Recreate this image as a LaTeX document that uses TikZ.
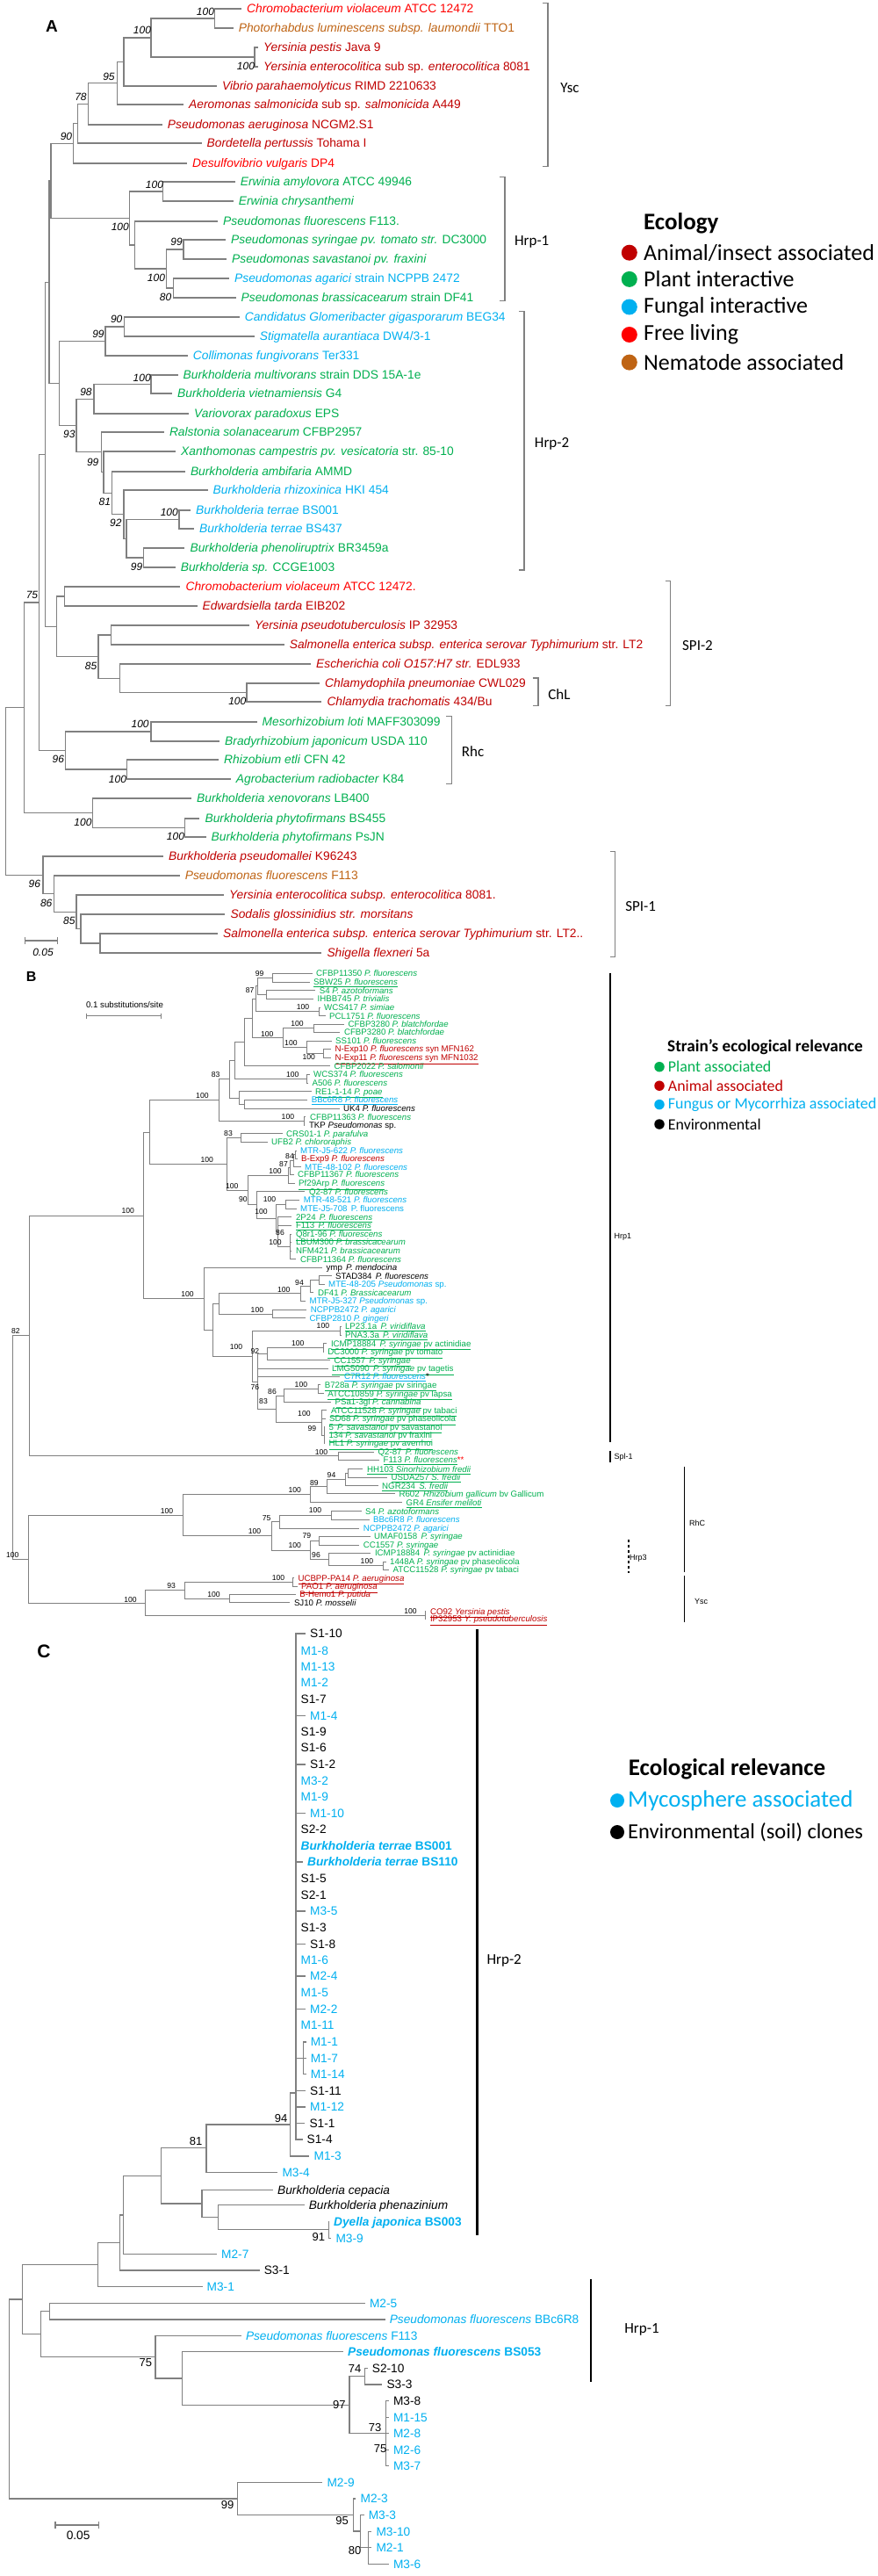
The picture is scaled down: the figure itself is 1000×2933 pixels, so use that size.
\documentclass[tikz,border=0pt]{standalone}
\usepackage{fontspec}
\setmainfont{Liberation Sans}
\newfontfamily\calib{Carlito}
\usetikzlibrary{calc}
\definecolor{plantgreen}{RGB}{0,176,80}
\definecolor{fungblue}{RGB}{0,176,240}
\definecolor{animred}{RGB}{192,0,0}
\definecolor{freered}{RGB}{255,0,0}
\definecolor{nembrown}{RGB}{191,100,20}
\definecolor{treegray}{RGB}{128,128,128}
\tikzset{
  brA/.style={draw=treegray,line width=1.3pt},
  brB/.style={draw=treegray,line width=0.8pt},
  brC/.style={draw=treegray,line width=1.2pt},
  taxA/.style={anchor=west,inner xsep=6pt,inner ysep=0pt,text height=9.9pt,text depth=0pt,font=\fontsize{13.8}{16}\selectfont},
  taxB/.style={anchor=west,inner xsep=4.5pt,inner ysep=0pt,text height=7pt,text depth=0pt,font=\fontsize{9.7}{11}\selectfont},
  taxC/.style={anchor=west,inner xsep=5pt,inner ysep=0pt,text height=9.8pt,text depth=0pt,font=\fontsize{13.7}{16}\selectfont},
  bootA/.style={inner sep=0pt,font=\fontsize{12}{14}\selectfont\itshape},
  bootB/.style={inner sep=0pt,font=\fontsize{8.6}{10}\selectfont},
  bootC/.style={inner sep=0pt,font=\fontsize{13}{15}\selectfont},
  bracA/.style={draw=treegray,line width=1.2pt},
  barB/.style={draw=black,line width=1.5pt},
  barC/.style={draw=black,line width=2.5pt},
  cladeA/.style={inner sep=0pt,font=\calib\fontsize{17}{20}\selectfont},
  cladeB/.style={anchor=west,inner sep=0pt,font=\fontsize{9}{10}\selectfont},
  cladeC/.style={inner sep=0pt,font=\calib\fontsize{17}{20}\selectfont},
  panel/.style={inner sep=0pt,font=\bfseries\fontsize{19}{22}\selectfont},
  legdot/.style={circle,inner sep=0pt,minimum size=#1},
  legtext/.style={anchor=west,inner sep=0pt,font=\calib\fontsize{#1}{#1}\selectfont},
  legtitle/.style={anchor=west,inner sep=0pt,font=\calib\bfseries\fontsize{#1}{#1}\selectfont}
}
\begin{document}
\begin{tikzpicture}[x=1pt,y=-1pt]
\fill[white] (0,0) rectangle (1000,2933);
\useasboundingbox (0,0) rectangle (1000,2933);

%%%%%%%%%%%%%%%% panel A
\node[panel] (labA) at (59,30) {A};

% Ysc
\node[taxA,text=freered] (A1) at (275,10) {\textit{Chromobacterium violaceum} ATCC 12472};
\node[taxA,text=nembrown] (A2) at (265.6,32) {\textit{Photorhabdus luminescens subsp. laumondii} TTO1};
\node[taxA,text=animred] (A3) at (294,54) {\textit{Yersinia pestis} Java 9};
\node[taxA,text=animred] (A4) at (294,76) {\textit{Yersinia enterocolitica} sub sp. \textit{enterocolitica} 8081};
\node[taxA,text=animred] (A5) at (247,98) {\textit{Vibrio parahaemolyticus} RIMD 2210633};
\node[taxA,text=animred] (A6) at (209,119) {\textit{Aeromonas salmonicida} sub sp. \textit{salmonicida} A449};
\node[taxA,text=animred] (A7) at (184.7,142) {\textit{Pseudomonas aeruginosa} NCGM2.S1};
\node[taxA,text=animred] (A8) at (229.5,163) {\textit{Bordetella pertussis} Tohama I};
\node[taxA,text=freered] (A9) at (213,186) {\textit{Desulfovibrio vulgaris} DP4};
% Hrp-1
\node[taxA,text=plantgreen] (A10) at (267.6,207) {\textit{Erwinia amylovora} ATCC 49946};
\node[taxA,text=plantgreen] (A11) at (265.6,229) {\textit{Erwinia chrysanthemi}};
\node[taxA,text=plantgreen] (A12) at (248,252) {\textit{Pseudomonas fluorescens} F113.};
\node[taxA,text=plantgreen] (A13) at (257,273) {\textit{Pseudomonas syringae pv. tomato str.} DC3000};
\node[taxA,text=plantgreen] (A14) at (258,295) {\textit{Pseudomonas savastanoi pv. fraxini}};
\node[taxA,text=fungblue] (A15) at (261,317) {\textit{Pseudomonas agarici} strain NCPPB 2472};
\node[taxA,text=plantgreen] (A16) at (268.5,339) {\textit{Pseudomonas brassicacearum} strain DF41};
% Hrp-2
\node[taxA,text=fungblue] (A17) at (272.6,361) {\textit{Candidatus Glomeribacter gigasporarum} BEG34};
\node[taxA,text=fungblue] (A18) at (289.6,383) {\textit{Stigmatella aurantiaca} DW4/3-1};
\node[taxA,text=fungblue] (A19) at (213.7,405) {\textit{Collimonas fungivorans} Ter331};
\node[taxA,text=plantgreen] (A20) at (202.5,427) {\textit{Burkholderia multivorans} strain DDS 15A-1e};
\node[taxA,text=plantgreen] (A21) at (196,448) {\textit{Burkholderia vietnamiensis} G4};
\node[taxA,text=plantgreen] (A22) at (215,471) {\textit{Variovorax paradoxus} EPS};
\node[taxA,text=plantgreen] (A23) at (186.8,492) {\textit{Ralstonia solanacearum} CFBP2957};
\node[taxA,text=plantgreen] (A24) at (200,514) {\textit{Xanthomonas campestris pv. vesicatoria} str. 85-10};
\node[taxA,text=plantgreen] (A25) at (210.8,537) {\textit{Burkholderia ambifaria} AMMD};
\node[taxA,text=fungblue] (A26) at (236.5,558) {\textit{Burkholderia rhizoxinica} HKI 454};
\node[taxA,text=fungblue] (A27) at (217,581) {\textit{Burkholderia terrae} BS001};
\node[taxA,text=fungblue] (A28) at (221,602) {\textit{Burkholderia terrae} BS437};
\node[taxA,text=plantgreen] (A29) at (210.4,624) {\textit{Burkholderia phenoliruptrix} BR3459a};
\node[taxA,text=plantgreen] (A30) at (199.6,646) {\textit{Burkholderia sp.} CCGE1003};
% SPI-2
\node[taxA,text=freered] (A31) at (205.4,668) {\textit{Chromobacterium violaceum} ATCC 12472.};
\node[taxA,text=animred] (A32) at (224.5,690) {\textit{Edwardsiella tarda} EIB202};
\node[taxA,text=animred] (A33) at (284,712) {\textit{Yersinia pseudotuberculosis} IP 32953};
\node[taxA,text=animred] (A34) at (323.6,734) {\textit{Salmonella enterica subsp. enterica serovar Typhimurium} str. LT2};
\node[taxA,text=animred] (A35) at (354,756) {\textit{Escherichia coli O157:H7 str.} EDL933};
\node[taxA,text=animred] (A36) at (364,778) {\textit{Chlamydophila pneumoniae} CWL029};
\node[taxA,text=animred] (A37) at (366.3,799) {\textit{Chlamydia trachomatis} 434/Bu};
% Rhc
\node[taxA,text=plantgreen] (A38) at (292.5,822) {\textit{Mesorhizobium loti} MAFF303099};
\node[taxA,text=plantgreen] (A39) at (250,844) {\textit{Bradyrhizobium japonicum} USDA 110};
\node[taxA,text=plantgreen] (A40) at (249,865) {\textit{Rhizobium etli} CFN 42};
\node[taxA,text=plantgreen] (A41) at (262.7,887) {\textit{Agrobacterium radiobacter} K84};
\node[taxA,text=plantgreen] (A42) at (218,909) {\textit{Burkholderia xenovorans} LB400};
\node[taxA,text=plantgreen] (A43) at (227.4,932) {\textit{Burkholderia phytofirmans} BS455};
\node[taxA,text=plantgreen] (A44) at (234.5,953) {\textit{Burkholderia phytofirmans} PsJN};
% SPI-1
\node[taxA,text=animred] (A45) at (186,975) {\textit{Burkholderia pseudomallei} K96243};
\node[taxA,text=nembrown] (A46) at (204.6,997) {\textit{Pseudomonas fluorescens} F113};
\node[taxA,text=animred] (A47) at (255,1019) {\textit{Yersinia enterocolitica subsp. enterocolitica} 8081.};
\node[taxA,text=animred] (A48) at (256.4,1041) {\textit{Sodalis glossinidius str. morsitans}};
\node[taxA,text=animred] (A49) at (248,1063) {\textit{Salmonella enterica subsp. enterica serovar Typhimurium} str. LT2..};
\node[taxA,text=animred] (A50) at (366.3,1085) {\textit{Shigella flexneri} 5a};

% inner nodes A
\coordinate (a1) at (244.6,21);   \coordinate (a2) at (290,65);
\coordinate (a3) at (172,43);     \coordinate (a4) at (141,70.5);
\coordinate (a5) at (133.5,94.8); \coordinate (a6) at (100.7,118.4);
\coordinate (a7) at (88.3,140.7); \coordinate (a8) at (83.7,163.3);
\coordinate (b1) at (185.7,218);  \coordinate (b2) at (209,284);
\coordinate (b3) at (197.8,328);  \coordinate (b4) at (189.5,306);
\coordinate (b5) at (153.4,279);  \coordinate (b6) at (147.2,248.5);
\coordinate (c1) at (141.8,372);  \coordinate (c2) at (120,388.5);
\coordinate (c3) at (172,437.5);  \coordinate (c4) at (107,454.3);
\coordinate (c5) at (204,591.5);  \coordinate (c6) at (163.8,635);
\coordinate (c7) at (143.9,613.3);\coordinate (c8) at (141,585.6);
\coordinate (c9) at (127.3,561.3);\coordinate (c10) at (118,537.7);
\coordinate (c11) at (115.3,514.8);\coordinate (c12) at (87,484.5);
\coordinate (c13) at (67.6,436.5);
\coordinate (d1) at (58,205.9);   \coordinate (d2) at (56,321.2);
\coordinate (e1) at (73.8,679);   \coordinate (e2) at (126.5,723);
\coordinate (e3) at (281,788.5);  \coordinate (e4) at (136.8,772.3);
\coordinate (e5) at (112,747.6);  \coordinate (e6) at (64.3,713.3);
\coordinate (d3) at (51.8,517.3);
\coordinate (f1) at (172,833);    \coordinate (f2) at (144.3,876);
\coordinate (f3) at (74.6,854.5); \coordinate (d4) at (44.4,685.9);
\coordinate (g1) at (210.6,942.5);\coordinate (g2) at (105.7,925.8);
\coordinate (d5) at (27.8,805.8);
\coordinate (h1) at (114,1074);   \coordinate (h2) at (92,1057.5);
\coordinate (h3) at (87,1038.3);  \coordinate (h4) at (61.4,1017.6);
\coordinate (h5) at (49,996.3);   \coordinate (rA) at (6.2,901);

\foreach \p/\c in {a1/A1,a1/A2,a2/A3,a2/A4,a3/a1,a3/a2,a4/a3,a4/A5,a5/a4,a5/A6,a6/a5,a6/A7,a7/a6,a7/A8,a8/a7,a8/A9,
  b1/A10,b1/A11,b2/A13,b2/A14,b3/A15,b3/A16,b4/b2,b4/b3,b5/A12,b5/b4,b6/b1,b6/b5,
  c1/A17,c1/A18,c2/c1,c2/A19,c3/A20,c3/A21,c4/c3,c4/A22,c5/A27,c5/A28,c6/A29,c6/A30,c7/c5,c7/c6,c8/A26,c8/c7,
  c9/A25,c9/c8,c10/A24,c10/c9,c11/A23,c11/c10,c12/c4,c12/c11,c13/c2,c13/c12,d1/a8,d1/b6,d2/d1,d2/c13,
  e1/A31,e1/A32,e2/A33,e2/A34,e3/A36,e3/A37,e4/A35,e4/e3,e5/e2,e5/e4,e6/e1,e6/e5,d3/d2,d3/e6,
  f1/A38,f1/A39,f2/A40,f2/A41,f3/f1,f3/f2,d4/d3,d4/f3,g1/A43,g1/A44,g2/A42,g2/g1,d5/d4,d5/g2,
  h1/A49,h1/A50,h2/A48,h2/h1,h3/A47,h3/h2,h4/A46,h4/h3,h5/A45,h5/h4,rA/d5,rA/h5}
  \draw[brA] (\p) |- (\c);

% bootstrap A
\foreach \x/\y/\v [count=\i] in {234/13/100,162/34/100,280/75/100,124/87/95,92/110/78,75.5/155/90,
  176/210/100,201/275/99,188.6/338/80,178/316/100,136.8/258/100,
  132.7/363/90,112/380/99,161.7/430/100,98/446/98,78.8/494/93,105.7/526/99,119.4/571/81,131.8/595/92,192.8/583/100,155.5/645/99,
  270.3/798/100,103.6/758/85,36.5/677/75,159.6/824/100,134/887/100,66.3/864/96,200/952/100,94.5/936/100,
  39.4/1006/96,52.7/1028/86,78.8/1048/85}
  \node[bootA] (bsA\i) at (\x,\y) {\v};

% clade brackets A
\draw[bracA] (618,3.5) -- (624,3.5) -- (624,189.5) -- (618,189.5);
\draw[bracA] (569,201.4) -- (575,201.4) -- (575,342.5) -- (569,342.5);
\draw[bracA] (591,354.4) -- (597,354.4) -- (597,649) -- (591,649);
\draw[bracA] (757.6,661.8) -- (763.6,661.8) -- (763.6,803.5) -- (757.6,803.5);
\draw[bracA] (606.9,772) -- (612.9,772) -- (612.9,803.5) -- (606.9,803.5);
\draw[bracA] (508.3,815.4) -- (514.3,815.4) -- (514.3,892.6) -- (508.3,892.6);
\draw[bracA] (694.7,969.8) -- (700.7,969.8) -- (700.7,1089.1) -- (694.7,1089.1);
\node[cladeA] (ysc) at (649,100) {Ysc};
\node[cladeA] (hrp1A) at (605.7,275) {Hrp-1};
\node[cladeA] (hrp2A) at (628.6,505) {Hrp-2};
\node[cladeA] (spi2) at (794.5,735.4) {SPI-2};
\node[cladeA] (chl) at (637,791) {ChL};
\node[cladeA] (rhcA) at (538.6,856) {Rhc};
\node[cladeA] (spi1) at (729.6,1031.6) {SPI-1};

% scale A
\draw[treegray,line width=1.2pt] (28.2,1067) -- (28.2,1075) (28.2,1071) -- (65.5,1071) (65.5,1067) -- (65.5,1075);
\node[bootA] (scA) at (49,1084) {0.05};

% legend A
\node[legtitle=27] (ecoT) at (732.9,254) {Ecology};
\node[legdot=18pt,fill=animred] (ecoD1) at (716.8,287.7) {};
\node[legdot=18pt,fill=plantgreen] (ecoD2) at (716.8,317.9) {};
\node[legdot=18pt,fill=fungblue] (ecoD3) at (716.8,349.5) {};
\node[legdot=18pt,fill=freered] (ecoD4) at (716.8,381) {};
\node[legdot=18pt,fill=nembrown] (ecoD5) at (716.8,412.6) {};
\node[legtext=26] (ecoL1) at (732.9,287.7) {Animal/insect associated};
\node[legtext=26] (ecoL2) at (732.9,317.9) {Plant interactive};
\node[legtext=26] (ecoL3) at (732.9,349.5) {Fungal interactive};
\node[legtext=26] (ecoL4) at (732.9,381) {Free living};
\node[legtext=26] (ecoL5) at (732.9,412.6) {Nematode associated};

%%%%%%%%%%%%%%%% panel B
\node[panel,font=\bfseries\fontsize{16}{18}\selectfont] (labB) at (35.7,1111.7) {B};
\draw[treegray,line width=0.9pt] (98.2,1153.7) -- (98.2,1159.7) (98.2,1156.7) -- (183.2,1156.7) (183.2,1153.7) -- (183.2,1159.7);
\node[inner sep=0pt,font=\fontsize{9.7}{11}\selectfont] (scB) at (142,1144.3) {0.1 substitutions/site};

\node[taxB,text=plantgreen] (B1) at (355.5,1108.3) {CFBP11350 \textit{P. fluorescens}};
\node[taxB,text=plantgreen] (B2) at (352.5,1118) {\underline{SBW25 \textit{P. fluorescens}}};
\node[taxB,text=plantgreen] (B3) at (359.1,1127.7) {S4 \textit{P. azotoformans}};
\node[taxB,text=plantgreen] (B4) at (356.9,1137.3) {IHBB745 \textit{P. trivialis}};
\node[taxB,text=plantgreen] (B5) at (364.5,1147) {WCS417 \textit{P. simiae}};
\node[taxB,text=plantgreen] (B6) at (370.5,1156.7) {PCL1751 \textit{P. fluorescens}};
\node[taxB,text=plantgreen] (B7) at (391.9,1166) {CFBP3280 \textit{P. blatchfordae}};
\node[taxB,text=plantgreen] (B8) at (387.3,1175.3) {CFBP3280 \textit{P. blatchfordae}};
\node[taxB,text=plantgreen] (B9) at (377.5,1185) {SS101 \textit{P. fluorescens}};
\node[taxB,text=animred] (B10) at (376.9,1194.3) {N-Exp10 \textit{P. fluorescens} syn MFN162};
\node[taxB,text=animred] (B11) at (376.9,1204) {\underline{N-Exp11 \textit{P. fluorescens} syn MFN1032}};
\node[taxB,text=plantgreen] (B12) at (375.9,1213.7) {CFBP2022 \textit{P. salomonii}};
\node[taxB,text=plantgreen] (B13) at (352.5,1223.3) {WCS374 \textit{P. fluorescens}};
\node[taxB,text=plantgreen] (B14) at (350.9,1233) {A506 \textit{P. fluorescens}};
\node[taxB,text=plantgreen] (B15) at (354.5,1242.7) {\underline{RE1-1-14 \textit{P. poae}}};
\node[taxB,text=fungblue] (B16) at (350.1,1252.3) {\underline{BBc6R8 \textit{P. fluorescens}}};
\node[taxB,text=black] (B17) at (386.5,1262) {UK4 \textit{P. fluorescens}};
\node[taxB,text=plantgreen] (B18) at (348.4,1271.7) {CFBP11363 \textit{P. fluorescens}};
\node[taxB,text=black] (B19) at (347.3,1281.3) {TKP \textit{Pseudomonas} sp.};
\node[taxB,text=plantgreen] (B20) at (321.5,1290.7) {CRS01-1 \textit{P. parafulva}};
\node[taxB,text=plantgreen] (B21) at (304.5,1300.3) {UFB2 \textit{P. chlororaphis}};
\node[taxB,text=fungblue] (B22) at (337.5,1310) {MTR-J5-622 \textit{P. fluorescens}};
\node[taxB,text=animred] (B23) at (338.5,1319.3) {B-Exp9 \textit{P. fluorescens}};
\node[taxB,text=fungblue] (B24) at (342.5,1328.7) {MTE-48-102 \textit{P. fluorescens}};
\node[taxB,text=plantgreen] (B25) at (334.5,1337.3) {CFBP11367 \textit{P. fluorescens}};
\node[taxB,text=plantgreen] (B26) at (335.5,1347.3) {\underline{Pf29Arp \textit{P. fluorescens}}};
\node[taxB,text=plantgreen] (B27) at (347.3,1356.7) {Q2-87 \textit{P. fluorescens}};
\node[taxB,text=fungblue] (B28) at (341.2,1366.3) {MTR-48-521 \textit{P. fluorescens}};
\node[taxB,text=fungblue] (B29) at (337.5,1376) {MTE-J5-708\, P. fluorescens};
\node[taxB,text=plantgreen] (B30) at (332.3,1385.7) {\underline{2P24\, \textit{P. fluorescens}}};
\node[taxB,text=plantgreen] (B31) at (332.3,1395.3) {\underline{F113\, \textit{P. fluorescens}}};
\node[taxB,text=plantgreen] (B32) at (332.3,1405) {\underline{Q8r1-96 \textit{P. fluorescens}}};
\node[taxB,text=plantgreen] (B33) at (332.3,1414.3) {LBUM300 \textit{P. brassicacearum}};
\node[taxB,text=plantgreen] (B34) at (332.3,1424) {NFM421 \textit{P. brassicacearum}};
\node[taxB,text=plantgreen] (B35) at (337.3,1433.7) {CFBP11364 \textit{P. fluorescens}};
\node[taxB,text=black] (B36) at (366.9,1443.3) {ymp\, \textit{P. mendocina}};
\node[taxB,text=black] (B37) at (377.5,1452.7) {STAD384\, \textit{P. fluorescens}};
\node[taxB,text=fungblue] (B38) at (369.5,1462) {MTE-48-205 \textit{Pseudomonas} sp.};
\node[taxB,text=plantgreen] (B39) at (357.3,1471.7) {DF41 \textit{P. Brassicacearum}};
\node[taxB,text=fungblue] (B40) at (348,1481) {MTR-J5-327 \textit{Pseudomonas} sp.};
\node[taxB,text=fungblue] (B41) at (349.1,1491) {NCPPB2472 \textit{P. agarici}};
\node[taxB,text=fungblue] (B42) at (348,1500.7) {CFBP2810 \textit{P. gingeri}};
\node[taxB,text=plantgreen] (B43) at (388.4,1510.3) {\underline{LP23.1a\, \textit{P. viridiflava}}};
\node[taxB,text=plantgreen] (B44) at (388.4,1520) {\underline{PNA3.3a\, \textit{P. viridiflava}}};
\node[taxB,text=plantgreen] (B45) at (372.3,1529.7) {\underline{ICMP18884\, \textit{P. syringae} pv actinidiae}};
\node[taxB,text=plantgreen] (B46) at (368.7,1539) {\underline{DC3000 \textit{P. syringae} pv tomato}};
\node[taxB,text=plantgreen] (B47) at (375.9,1548.7) {\underline{CC1557\, \textit{P. syringae}}};
\node[taxB,text=plantgreen] (B48) at (373.5,1558) {\underline{LMG5090\, \textit{P. syringae} pv tagetis}};
\node[taxB,text=fungblue] (B49) at (387.3,1567.3) {\underline{C7R12 \textit{P. fluorescens}}\textcolor{black}{*}};
\node[taxB,text=plantgreen] (B50) at (365.1,1576.7) {\underline{B728a \textit{P. syringae} pv siringae}};
\node[taxB,text=plantgreen] (B51) at (368.7,1586.7) {\underline{ATCC10859 \textit{P. syringae} pv lapsa}};
\node[taxB,text=plantgreen] (B52) at (376.9,1596) {\underline{PSa1-3gi \textit{P. cannabina}}};
\node[taxB,text=plantgreen] (B53) at (372.3,1605.7) {\underline{ATCC11528 \textit{P. syringae} pv tabaci}};
\node[taxB,text=plantgreen] (B54) at (370.5,1615) {\underline{SD68 \textit{P. syringae} pv phaseolicola}};
\node[taxB,text=plantgreen] (B55) at (369.8,1624.7) {\underline{5\, \textit{P. savastanoi} pv savastanoi}};
\node[taxB,text=plantgreen] (B56) at (369.8,1634) {\underline{134 \textit{P. savastanoi} pv fraxini}};
\node[taxB,text=plantgreen] (B57) at (369.8,1643.3) {\underline{HL1 \textit{P. syringae} pv averrhoi}};
\node[taxB,text=plantgreen] (B58) at (425.9,1653.3) {Q2-87\, \textit{P. fluorescens}};
\node[taxB,text=plantgreen] (B59) at (431.9,1662.3) {\underline{F113 \textit{P. fluorescens}}\textcolor{freered}{**}};
\node[taxB,text=plantgreen] (B60) at (413.4,1672.7) {\underline{HH103 \textit{Sinorhizobium fredii}}};
\node[taxB,text=plantgreen] (B61) at (440.9,1682.3) {\underline{USDA257 \textit{S. fredii}}};
\node[taxB,text=plantgreen] (B62) at (430.5,1691.7) {\underline{NGR234\, \textit{S. fredii}}};
\node[taxB,text=plantgreen] (B63) at (449.8,1700.7) {R602\, \textit{Rhizobium gallicum} bv Gallicum};
\node[taxB,text=plantgreen] (B64) at (458,1710.7) {\underline{GR4 \textit{Ensifer meliloti}}};
\node[taxB,text=plantgreen] (B65) at (411.5,1720.7) {S4 \textit{P. azotoformans}};
\node[taxB,text=fungblue] (B66) at (420.5,1730) {BBc6R8 \textit{P. fluorescens}};
\node[taxB,text=fungblue] (B67) at (409.1,1740) {NCPPB2472 \textit{P. agarici}};
\node[taxB,text=plantgreen] (B68) at (421.5,1749.3) {UMAF0158\, \textit{P. syringae}};
\node[taxB,text=plantgreen] (B69) at (409.1,1759) {CC1557 \textit{P. syringae}};
\node[taxB,text=plantgreen] (B70) at (422.3,1768.3) {ICMP18884\, \textit{P. syringae} pv actinidiae};
\node[taxB,text=plantgreen] (B71) at (439.5,1778) {1448A \textit{P. syringae} pv phaseolicola};
\node[taxB,text=plantgreen] (B72) at (443,1787.3) {ATCC11528 \textit{P. syringae} pv tabaci};
\node[taxB,text=animred] (B73) at (334.8,1796.7) {\underline{UCBPP-PA14 \textit{P. aeruginosa}}};
\node[taxB,text=animred] (B74) at (338.5,1806) {\underline{PAO1 \textit{P. aeruginosa}}};
\node[taxB,text=animred] (B75) at (336.7,1815.3) {B-Hemo1 \textit{P. putida}};
\node[taxB,text=black] (B76) at (330.3,1824.7) {SJ10 \textit{P. mosselii}};
\node[taxB,text=animred] (B77) at (485.3,1834.7) {\underline{CO92 \textit{Yersinia pestis}}};
\node[taxB,text=animred] (B78) at (485.3,1843.3) {\underline{IP32953 \textit{Y. pseudotuberculosis}}};

% inner nodes B
\coordinate (nb1) at (310.7,1113.2); \coordinate (nb2) at (303.6,1132.5);
\coordinate (nb3) at (293.6,1122.8); \coordinate (nb4) at (363.5,1151.8);
\coordinate (nb5) at (291,1137.3);   \coordinate (nb6) at (357,1170.7);
\coordinate (nb7) at (367.9,1199.2); \coordinate (nb8) at (349.3,1192.1);
\coordinate (nb9) at (322.5,1181.4); \coordinate (nb10) at (287.5,1159.3);
\coordinate (nb11) at (278.6,1186.5);\coordinate (nb12) at (349.5,1228.2);
\coordinate (nb13) at (267,1207.3);  \coordinate (nb14) at (278.6,1257.2);
\coordinate (nb15) at (272,1250);    \coordinate (nb16) at (261.8,1228.6);
\coordinate (nb17) at (346.4,1276.5);\coordinate (nb18) at (249,1252.6);
\coordinate (nc1) at (274.3,1295.5); \coordinate (nc2) at (336,1314.7);
\coordinate (nc3) at (334.5,1321.7); \coordinate (nc4) at (330.4,1329.5);
\coordinate (nc5) at (328.6,1338.4); \coordinate (nc6) at (325.7,1371.2);
\coordinate (nc7) at (330.5,1419.4); \coordinate (nc8) at (316,1402.5);
\coordinate (nc9) at (314.3,1386.9); \coordinate (nc10) at (292,1371.8);
\coordinate (nc11) at (282,1355.1);  \coordinate (nc12) at (257.9,1325.3);
\coordinate (nc13) at (170.7,1289);
\coordinate (nd7) at (363,1457.4);   \coordinate (nd6) at (353.6,1464.5);
\coordinate (nd4) at (342,1472.8);   \coordinate (nd5) at (310.7,1495.9);
\coordinate (nd2) at (249,1484.3);
\coordinate (ne1) at (387.5,1515.2); \coordinate (ne3) at (367.9,1534.4);
\coordinate (ne5) at (304.3,1541.5); \coordinate (ne7) at (362.5,1581.7);
\coordinate (ne8) at (323.2,1588.9); \coordinate (ne9a) at (369,1634);
\coordinate (ne9) at (366,1619.8);   \coordinate (ne10) at (314.3,1604.3);
\coordinate (ne2) at (292.9,1572.9); \coordinate (nd3) at (287.5,1544);
\coordinate (nd1) at (242.1,1514.2); \coordinate (nc15) at (232.1,1478.8);
\coordinate (nc14) at (163.6,1383.9);\coordinate (nf1) at (385,1657.8);
\coordinate (ng1) at (32.9,1520.8);
\coordinate (nh1) at (396.4,1677.5); \coordinate (nh2) at (392.9,1684.6);
\coordinate (nh3) at (372.5,1692.7); \coordinate (nh4) at (353.6,1701.7);
\coordinate (nh5) at (377.5,1725.4); \coordinate (nh6) at (317.9,1732.7);
\coordinate (nh7) at (363.2,1754.2); \coordinate (nh8) at (436.4,1782.7);
\coordinate (nh9) at (374.3,1775.5); \coordinate (nh10) at (353.6,1764.9);
\coordinate (nh11) at (308.9,1748.8);\coordinate (nh12) at (208.2,1725.3);
\coordinate (ni2) at (333,1801.4);   \coordinate (ni3) at (261.5,1820);
\coordinate (ni4) at (210.5,1810.7); \coordinate (ni5) at (484,1839);
\coordinate (ni6) at (165.8,1824.9); \coordinate (ni7) at (32.4,1775.1);
\coordinate (rB) at (14.3,1648);

\foreach \p/\c in {nb1/B1,nb1/B2,nb2/B3,nb2/B4,nb3/nb1,nb3/nb2,nb4/B5,nb4/B6,nb5/nb3,nb5/nb4,nb6/B7,nb6/B8,
  nb7/B10,nb7/B11,nb8/B9,nb8/nb7,nb9/nb6,nb9/nb8,nb10/nb5,nb10/nb9,nb11/nb10,nb11/B12,nb12/B13,nb12/B14,
  nb13/nb11,nb13/nb12,nb14/B16,nb14/B17,nb15/B15,nb15/nb14,nb16/nb13,nb16/nb15,nb17/B18,nb17/B19,nb18/nb16,nb18/nb17,
  nc1/B20,nc1/B21,nc2/B22,nc2/B23,nc3/nc2,nc3/B24,nc4/nc3,nc4/B25,nc5/nc4,nc5/B26,nc6/B28,nc6/B29,
  nc7/B32,nc7/B33,nc7/B34,nc7/B35,nc8/B30,nc8/B31,nc8/nc7,nc9/nc6,nc9/nc8,nc10/B27,nc10/nc9,nc11/nc5,nc11/nc10,
  nc12/nc1,nc12/nc11,nc13/nb18,nc13/nc12,
  nd7/B37,nd7/B38,nd6/nd7,nd6/B39,nd4/nd6,nd4/B40,nd5/B41,nd5/B42,nd2/nd4,nd2/nd5,
  ne1/B43,ne1/B44,ne3/B45,ne3/B46,ne5/ne3,ne5/B47,ne7/B50,ne7/B51,ne8/ne7,ne8/B52,ne9a/B55,ne9a/B56,ne9a/B57,
  ne9/B53,ne9/B54,ne9/ne9a,ne10/ne8,ne10/ne9,ne2/ne5,ne2/B48,ne2/B49,ne2/ne10,nd3/ne1,nd3/ne2,nd1/nd2,nd1/nd3,
  nc15/B36,nc15/nd1,nc14/nc13,nc14/nc15,nf1/B58,nf1/B59,ng1/nc14,ng1/nf1,
  nh1/B60,nh1/B61,nh2/nh1,nh2/B62,nh3/nh2,nh3/B63,nh4/nh3,nh4/B64,nh5/B65,nh5/B66,nh6/nh5,nh6/B67,
  nh7/B68,nh7/B69,nh8/B71,nh8/B72,nh9/B70,nh9/nh8,nh10/nh7,nh10/nh9,nh11/nh6,nh11/nh10,nh12/nh4,nh12/nh11,
  ni2/B73,ni2/B74,ni3/B75,ni3/B76,ni4/ni2,ni4/ni3,ni5/B77,ni5/B78,ni6/ni4,ni6/ni5,ni7/nh12,ni7/ni6,rB/ng1,rB/ni7}
  \draw[brB] (\p) |- (\c);

% bootstrap B
\foreach \x/\y/\v [count=\i] in {295.7/1108.3/99,284.6/1127.7/87,345/1147/100,338.6/1166/100,331.4/1187.7/100,
  304.3/1177.3/100,351.8/1203.3/100,333.2/1223.3/100,245.7/1223.3/83,230.4/1247.7/100,327.9/1271.7/100,
  260/1290.7/83,235.7/1320.7/100,330/1316.7/84,323/1326/87,313.6/1334/100,264.3/1350.7/100,276.8/1366/90,
  307/1366/100,297.5/1380/100,319/1404/86,313.6/1414.3/100,145.7/1379/100,213.6/1474/100,341/1460.7/94,
  323.2/1468.3/100,292.9/1491.7/100,269/1534/100,367.9/1510/100,339.3/1529.3/100,290.4/1538.3/92,
  290.4/1580/76,310/1585/86,300/1596/83,342.9/1576.7/100,346.4/1610/100,355.4/1626.7/99,366/1653.3/100,
  17.9/1516/82,377.5/1680/94,357.9/1688.3/89,335.7/1696.7/100,190/1721/100,359/1720/100,303.6/1728.3/75,
  290/1743.3/100,349.3/1749/79,335.7/1759.3/100,360/1770.7/96,417.9/1777.3/100,14.3/1770.7/100,
  317/1796.7/100,195.2/1806/93,243.6/1815.3/100,148.6/1821.7/100,467.5/1834.3/100}
  \node[bootB] (bsB\i) at (\x,\y) {\v};

% clade bars B
\draw[barB] (695,1107.6) -- (695,1642.4);
\draw[barB] (695,1652) -- (695,1664.7);
\draw[barB] (779.3,1670) -- (779.3,1790);
\draw[barB] (779.3,1794) -- (779.3,1847);
\draw[barB,dashed,dash pattern=on 3pt off 3pt] (716,1752.7) -- (716,1791);
\node[cladeB] (hrp1B) at (699.5,1408) {Hrp1};
\node[cladeB] (spl1B) at (699.5,1659.4) {Spl-1};
\node[cladeB] (rhcB) at (785,1734) {RhC};
\node[cladeB] (hrp3B) at (717,1774) {Hrp3};
\node[cladeB] (yscB) at (790.8,1823.3) {Ysc};

% legend B
\node[legtitle=19.2] (strT) at (760,1192.4) {Strain’s ecological relevance};
\node[legdot=11.5pt,fill=plantgreen] (strD1) at (751,1214.7) {};
\node[legdot=11.5pt,fill=animred] (strD2) at (751,1236.2) {};
\node[legdot=11.5pt,fill=fungblue] (strD3) at (751,1257.6) {};
\node[legdot=11.5pt,fill=black] (strD4) at (751,1280) {};
\node[legtext=17.9,text=plantgreen] (strL1) at (760.7,1214.7) {Plant associated};
\node[legtext=17.9,text=animred] (strL2) at (760.7,1236.2) {Animal associated};
\node[legtext=17.9,text=fungblue] (strL3) at (760.7,1257.6) {Fungus or Mycorrhiza associated};
\node[legtext=17.9,text=black] (strL4) at (760.7,1280) {Environmental};

%%%%%%%%%%%%%%%% panel C
\node[panel,font=\bfseries\fontsize{21}{24}\selectfont] (labC) at (50,1880) {C};

\node[taxC] (C1) at (348,1860) {S1-10};
\node[taxC,text=fungblue] (C2) at (337.5,1879.3) {M1-8};
\node[taxC,text=fungblue] (C3) at (337.5,1897.7) {M1-13};
\node[taxC,text=fungblue] (C4) at (337.5,1915.7) {M1-2};
\node[taxC] (C5) at (337.5,1934.3) {S1-7};
\node[taxC,text=fungblue] (C6) at (348,1953.3) {M1-4};
\node[taxC] (C7) at (337.5,1971.7) {S1-9};
\node[taxC] (C8) at (337.5,1990) {S1-6};
\node[taxC] (C9) at (348,2009) {S1-2};
\node[taxC,text=fungblue] (C10) at (337.5,2027.3) {M3-2};
\node[taxC,text=fungblue] (C11) at (337.5,2045.7) {M1-9};
\node[taxC,text=fungblue] (C12) at (348,2064.3) {M1-10};
\node[taxC] (C13) at (337.5,2082.7) {S2-2};
\node[taxC,text=fungblue] (C14) at (337.5,2101.7) {\textbf{\textit{Burkholderia terrae} BS001}};
\node[taxC,text=fungblue] (C15) at (345,2120) {\textbf{\textit{Burkholderia terrae} BS110}};
\node[taxC] (C16) at (337.5,2139) {S1-5};
\node[taxC] (C17) at (337.5,2157.3) {S2-1};
\node[taxC,text=fungblue] (C18) at (348,2176) {M3-5};
\node[taxC] (C19) at (337.5,2194.3) {S1-3};
\node[taxC] (C20) at (348,2213.3) {S1-8};
\node[taxC,text=fungblue] (C21) at (337.5,2231.7) {M1-6};
\node[taxC,text=fungblue] (C22) at (348,2250) {M2-4};
\node[taxC,text=fungblue] (C23) at (337.5,2269) {M1-5};
\node[taxC,text=fungblue] (C24) at (348,2287.3) {M2-2};
\node[taxC,text=fungblue] (C25) at (337.5,2306) {M1-11};
\node[taxC,text=fungblue] (C26) at (348.6,2325) {M1-1};
\node[taxC,text=fungblue] (C27) at (348.6,2343.3) {M1-7};
\node[taxC,text=fungblue] (C28) at (348.6,2361.7) {M1-14};
\node[taxC] (C29) at (348,2380.7) {S1-11};
\node[taxC,text=fungblue] (C30) at (348,2399) {M1-12};
\node[taxC] (C31) at (347.4,2417.7) {S1-1};
\node[taxC] (C32) at (344.5,2436) {S1-4};
\node[taxC,text=fungblue] (C33) at (352.4,2455) {M1-3};
\node[taxC,text=fungblue] (C34) at (316.3,2473.3) {M3-4};
\node[taxC] (C35) at (311,2493.3) {\textit{Burkholderia cepacia}};
\node[taxC] (C36) at (346.6,2510.7) {\textit{Burkholderia phenazinium}};
\node[taxC,text=fungblue] (C37) at (375,2529.3) {\textbf{\textit{Dyella japonica} BS003}};
\node[taxC,text=fungblue] (C38) at (377.3,2548.3) {M3-9};
\node[taxC,text=fungblue] (C39) at (247,2566.7) {M2-7};
\node[taxC] (C40) at (295.6,2585) {S3-1};
\node[taxC,text=fungblue] (C41) at (230.5,2603.3) {M3-1};
\node[taxC,text=fungblue] (C42) at (415.8,2622.3) {M2-5};
\node[taxC,text=fungblue] (C43) at (438.6,2641) {\textit{Pseudomonas fluorescens} BBc6R8};
\node[taxC,text=fungblue] (C44) at (274.8,2659.3) {\textit{Pseudomonas fluorescens} F113};
\node[taxC,text=fungblue] (C45) at (391,2677.7) {\textbf{\textit{Pseudomonas fluorescens} BS053}};
\node[taxC] (C46) at (418.7,2696.7) {S2-10};
\node[taxC] (C47) at (435.3,2715) {S3-3};
\node[taxC] (C48) at (442.8,2733.3) {M3-8};
\node[taxC,text=fungblue] (C49) at (442.8,2752.3) {M1-15};
\node[taxC,text=fungblue] (C50) at (442.8,2770.7) {M2-8};
\node[taxC,text=fungblue] (C51) at (442.8,2789.3) {M2-6};
\node[taxC,text=fungblue] (C52) at (442.8,2807.7) {M3-7};
\node[taxC,text=fungblue] (C53) at (367.3,2826.7) {M2-9};
\node[taxC,text=fungblue] (C54) at (405.4,2845) {M2-3};
\node[taxC,text=fungblue] (C55) at (414.6,2863.3) {M3-3};
\node[taxC,text=fungblue] (C56) at (423.3,2882.3) {M3-10};
\node[taxC,text=fungblue] (C57) at (423.3,2900.7) {M2-1};
\node[taxC,text=fungblue] (C58) at (442.8,2919.3) {M3-6};

% inner nodes C
\coordinate (nk1) at (337,2383);     \coordinate (nk1b) at (345.4,2343.3);
\coordinate (nk2) at (330.8,2419);   \coordinate (nk3) at (235,2445.7);
\coordinate (nk6) at (374.4,2538.8); \coordinate (nk5) at (248.8,2524.7);
\coordinate (nk4) at (230,2509);     \coordinate (nk7) at (183.3,2477.3);
\coordinate (nk8) at (140.1,2522);   \coordinate (nk9) at (136.8,2553.5);
\coordinate (nk10) at (111.1,2578.4);\coordinate (nk11) at (56.8,2631.7);
\coordinate (nk14) at (415.4,2705.8);\coordinate (nk15) at (439.5,2770.5);
\coordinate (nk16) at (398,2738.2);  \coordinate (nk13) at (207.3,2708);
\coordinate (nk12) at (177,2683.7);  \coordinate (nk17) at (46.4,2657.7);
\coordinate (nk18) at (25.7,2618);
\coordinate (nk22) at (419.6,2900.8);\coordinate (nk23) at (410.4,2882);
\coordinate (nk24) at (402.2,2863.5);\coordinate (nk19) at (270.7,2845);
\coordinate (rC) at (10.4,2731.5);

\foreach \i in {1,...,25,29,30,31,32}
  \draw[brC] (nk1) |- (C\i);
\foreach \p/\c in {nk1/nk1b,nk1b/C26,nk1b/C27,nk1b/C28,nk2/nk1,nk2/C33,nk3/nk2,nk3/C34,nk6/C37,nk6/C38,
  nk5/C36,nk5/nk6,nk4/C35,nk4/nk5,nk7/nk3,nk7/nk4,nk8/nk7,nk8/C39,nk9/nk8,nk9/C40,nk10/nk9,nk10/C41,
  nk11/C42,nk11/C43,nk14/C46,nk14/C47,nk15/C48,nk15/C49,nk15/C50,nk15/C51,nk15/C52,nk16/nk14,nk16/nk15,
  nk13/C45,nk13/nk16,nk12/C44,nk12/nk13,nk17/nk11,nk17/nk12,nk18/nk10,nk18/nk17,
  nk22/C56,nk22/C57,nk22/C58,nk23/C55,nk23/nk22,nk24/C54,nk24/nk23,nk19/C53,nk19/nk24,rC/nk18,rC/nk19}
  \draw[brC] (\p) |- (\c);

% bootstrap C
\foreach \x/\y/\v [count=\i] in {320/2411.7/94,223/2437.7/81,362.8/2546.7/91,404.2/2696.7/74,427/2764.3/73,
  433.2/2787.7/75,386.4/2738.3/97,165.8/2690/75,389.7/2870/95,404.2/2904.3/80,259.1/2852.3/99}
  \node[bootC] (bsC\i) at (\x,\y) {\v};

% scale C
\draw[treegray,line width=1.2pt] (63,2871) -- (63,2879) (63,2875) -- (112.8,2875) (112.8,2871) -- (112.8,2879);
\node[bootC,font=\fontsize{13.7}{16}\selectfont] (scC) at (89.1,2887) {0.05};

% clade bars C
\draw[barC] (543.3,1855) -- (543.3,2545);
\draw[barC] (673,2595) -- (673,2712);
\node[cladeC] (hrp2C) at (574.2,2232.3) {Hrp-2};
\node[cladeC] (hrp1C) at (731,2652) {Hrp-1};

% legend C
\node[legtitle=27] (relT) at (715.6,2014) {Ecological relevance};
\node[legdot=16pt,fill=fungblue] (relD1) at (703,2050) {};
\node[legdot=16pt,fill=black] (relD2) at (703,2086) {};
\node[legtext=27,text=fungblue] (relL1) at (715,2050) {Mycosphere associated};
\node[legtext=24.5,text=black] (relL2) at (715,2086) {Environmental (soil) clones};
\end{tikzpicture}
\end{document}
